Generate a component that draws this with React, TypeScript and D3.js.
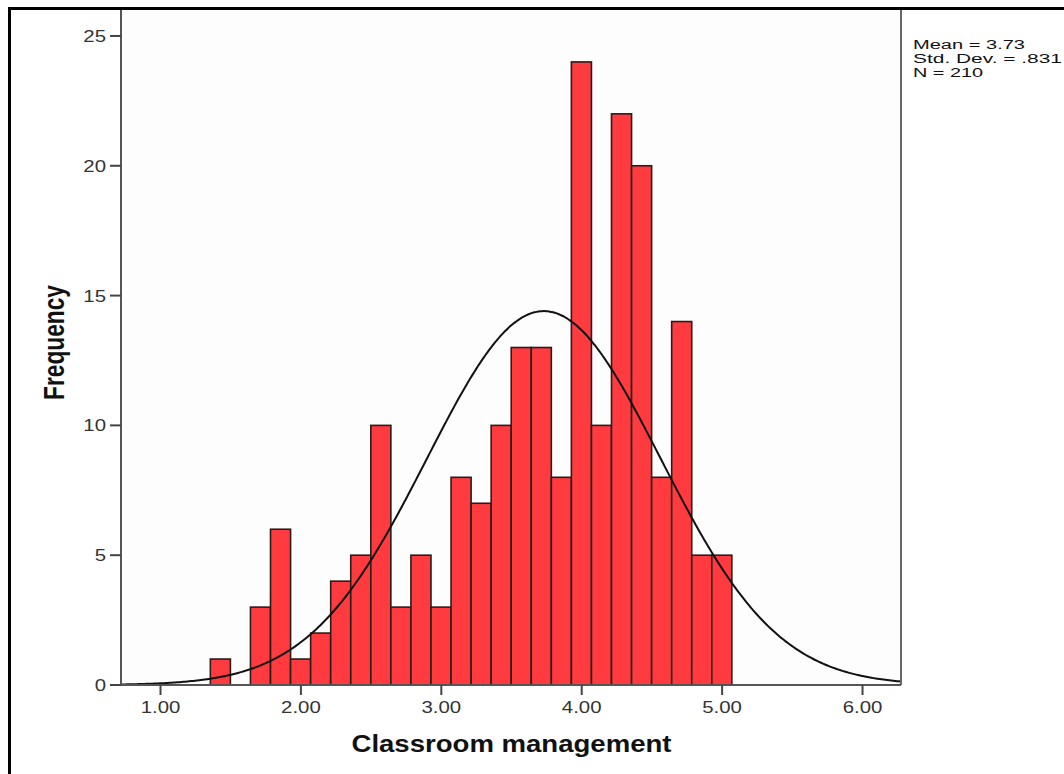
import React from "react";
import * as d3 from "d3";

// Histogram of "Classroom management" scores with a fitted normal curve
const binStart = 1.355;
const binWidth = 1 / 7;
const binCounts = [1, 0, 3, 6, 1, 2, 4, 5, 10, 3, 5, 3, 8, 7, 10, 13, 13, 8, 24, 10, 22, 20, 8, 14, 5, 5];

const xTicks = [1, 2, 3, 4, 5, 6];
const yTicks = [0, 5, 10, 15, 20, 25];

const statMean = 3.73;
const statSd = 0.831;
const statN = 210;
const statLines = ["Mean = 3.73", "Std. Dev. = .831", "N = 210"];
const statWidths = [112, 149, 70];

const xTitle = "Classroom management";
const yTitle = "Frequency";

const W = 1064;
const H = 774;
const plot = { left: 121, right: 901, top: 10, bottom: 685 };
const FONT = "'Liberation Sans', Arial, sans-serif";

export default function App() {
  const x = d3.scaleLinear().domain([0.7187, 6.274]).range([plot.left, plot.right]);
  const y = d3.scaleLinear().domain([0, 26]).range([plot.bottom, plot.top]);

  const bins = binCounts.map((c, i) => ({
    x0: binStart + i * binWidth,
    x1: binStart + (i + 1) * binWidth,
    count: c,
  }));

  const scaleFactor = statN * binWidth;
  const normal = (v: number) =>
    (scaleFactor / (statSd * Math.sqrt(2 * Math.PI))) *
    Math.exp(-((v - statMean) ** 2) / (2 * statSd * statSd));
  const [d0, d1] = x.domain();
  const curvePts = d3.range(0, 401).map((k) => d0 + ((d1 - d0) * k) / 400);
  const line = d3
    .line<number>()
    .x((v) => x(v))
    .y((v) => y(normal(v)))
    .curve(d3.curveBasis);

  return (
    <svg
      width={W}
      height={H}
      style={{ position: "absolute", left: 0, top: 0, background: "#fff" }}
    >
      {/* outer frame */}
      <rect x={9.5} y={8.5} width={W + 20} height={H + 20} fill="none" stroke="#000" strokeWidth={3} />

      {/* plot background */}
      <rect x={plot.left} y={plot.top} width={plot.right - plot.left} height={plot.bottom - plot.top} fill="#fdfdfd" />

      {/* bars */}
      {bins
        .filter((b) => b.count > 0)
        .map((b, i) => (
          <rect
            key={i}
            x={x(b.x0)}
            y={y(b.count)}
            width={x(b.x1) - x(b.x0)}
            height={y(0) - y(b.count)}
            fill="#ff3b3f"
            stroke="#2b1c1c"
            strokeWidth={1.6}
          />
        ))}

      {/* fitted normal curve */}
      <path d={line(curvePts) || ""} fill="none" stroke="#111" strokeWidth={2} />

      {/* plot frame */}
      <line x1={plot.right} x2={plot.right} y1={plot.top} y2={plot.bottom} stroke="#666" strokeWidth={2} />
      <line x1={plot.left} x2={plot.left} y1={plot.top} y2={plot.bottom} stroke="#555" strokeWidth={2} />
      <line x1={plot.left} x2={plot.right} y1={plot.bottom} y2={plot.bottom} stroke="#555" strokeWidth={2} />

      {/* y axis ticks */}
      {yTicks.map((t) => (
        <g key={t}>
          <line x1={plot.left - 11} x2={plot.left} y1={y(t)} y2={y(t)} stroke="#444" strokeWidth={2} />
          <text
            transform={`translate(${plot.left - 15},${y(t) + 6}) scale(1.2,1)`}
            textAnchor="end"
            fontFamily={FONT}
            fontSize={17}
            fill="#333"
          >
            {t}
          </text>
        </g>
      ))}

      {/* x axis ticks */}
      {xTicks.map((t) => (
        <g key={t}>
          <line x1={x(t)} x2={x(t)} y1={plot.bottom} y2={plot.bottom + 10} stroke="#444" strokeWidth={2} />
          <text
            transform={`translate(${x(t)},${plot.bottom + 28}) scale(1.2,1)`}
            textAnchor="middle"
            fontFamily={FONT}
            fontSize={17}
            fill="#333"
          >
            {d3.format(".2f")(t)}
          </text>
        </g>
      ))}

      {/* axis titles */}
      <text
        x={511.5}
        y={752}
        textAnchor="middle"
        fontFamily={FONT}
        fontWeight="bold"
        fontSize={23}
        fill="#111"
        textLength={320}
        lengthAdjust="spacingAndGlyphs"
      >
        {xTitle}
      </text>
      <text
        transform={`translate(64,342.5) scale(1.32,1) rotate(-90)`}
        textAnchor="middle"
        fontFamily={FONT}
        fontWeight="bold"
        fontSize={22.7}
        fill="#111"
      >
        {yTitle}
      </text>

      {/* summary statistics */}
      {statLines.map((s, i) => (
        <text
          key={s}
          x={913}
          y={48.5 + i * 14.3}
          fontFamily={FONT}
          fontSize={12.5}
          fill="#111"
          textLength={statWidths[i]}
          lengthAdjust="spacingAndGlyphs"
        >
          {s}
        </text>
      ))}
    </svg>
  );
}
